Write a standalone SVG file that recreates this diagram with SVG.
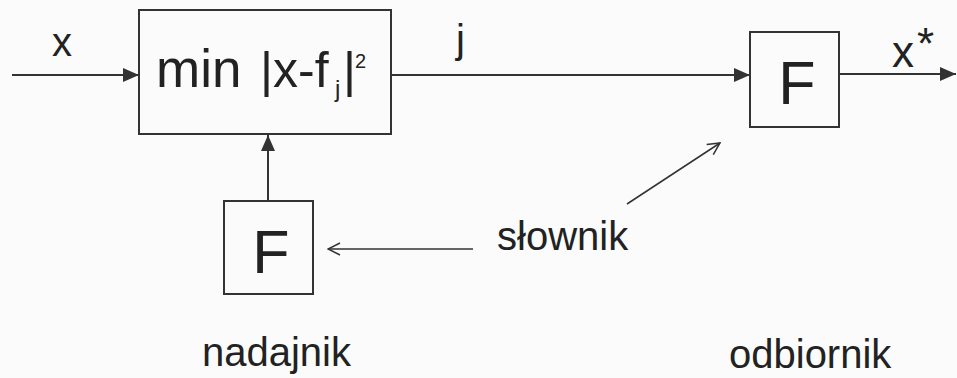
<svg xmlns="http://www.w3.org/2000/svg" width="957" height="378" viewBox="0 0 957 378">
<style>
text{font-family:"Liberation Sans",Arial,sans-serif;fill:#222}
.box{fill:none;stroke:#333;stroke-width:2}
.c{fill:none;stroke:#333;stroke-width:2}
.t{fill:none;stroke:#333;stroke-width:1.5}
</style>
<defs>
<marker id="fa" markerUnits="userSpaceOnUse" markerWidth="16" markerHeight="14" refX="16" refY="7" orient="auto">
<path d="M0,0 L16,7 L0,14 Z" fill="#333"/>
</marker>
<marker id="oa" markerUnits="userSpaceOnUse" markerWidth="14" markerHeight="14" refX="13" refY="7" orient="auto">
<path d="M1,1 L13,7 L1,13" fill="none" stroke="#333" stroke-width="1.5"/>
</marker>
</defs>
<rect width="957" height="378" fill="#fbfbfb"/>
<g id="connectors">
<line class="c" x1="12" y1="75" x2="139" y2="75" marker-end="url(#fa)"/>
<line class="c" x1="391" y1="75" x2="750" y2="75" marker-end="url(#fa)"/>
<line class="c" x1="839" y1="74" x2="956" y2="74" marker-end="url(#fa)"/>
<line class="c" x1="268" y1="201" x2="268" y2="135" marker-end="url(#fa)"/>
<line class="t" x1="473" y1="249" x2="328" y2="249" marker-end="url(#oa)"/>
<line class="t" x1="627" y1="204" x2="720" y2="143" marker-end="url(#oa)"/>
<text x="52" y="56" font-size="40">x</text>
<text x="456" y="53" font-size="40">j</text>
<text x="892" y="67" font-size="44">x</text>
<text x="917" y="59" font-size="44">*</text>
</g>
<g id="min">
<rect class="box" x="139" y="10" width="252" height="124"/>
<text x="156" y="87" font-size="53">min</text>
<text x="260" y="87" font-size="50">|x-f</text>
<text x="335" y="97" font-size="24">j</text>
<text x="343" y="87" font-size="50">|</text>
<text x="355" y="68" font-size="20">2</text>
</g>
<g id="F_nadajnik">
<rect class="box" x="224" y="201" width="89" height="93"/>
<text x="271" y="273" font-size="61" text-anchor="middle">F</text>
</g>
<g id="F_odbiornik">
<rect class="box" x="750" y="32" width="89" height="95"/>
<text x="797" y="104" font-size="61" text-anchor="middle">F</text>
</g>
<g id="slownik">
<text x="497" y="250" font-size="40">słownik</text>
</g>
<g id="labels">
<text x="202" y="366" font-size="40">nadajnik</text>
<text x="729" y="368" font-size="40">odbiornik</text>
</g>
</svg>
